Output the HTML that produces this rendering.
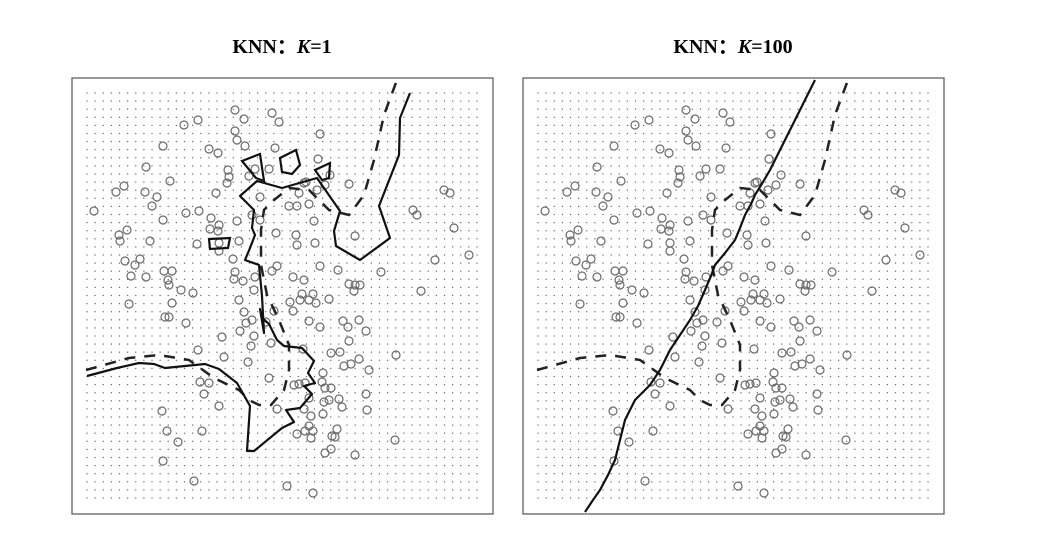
<!DOCTYPE html>
<html><head><meta charset="utf-8"><style>
html,body{margin:0;padding:0;background:#fff;width:1040px;height:538px;overflow:hidden}
svg{display:block}
</style></head><body>
<svg id="chart" width="1040" height="538" viewBox="0 0 1040 538" xmlns="http://www.w3.org/2000/svg">
<text x="282" y="53" text-anchor="middle" font-family="Liberation Serif, serif" font-weight="bold" font-size="20">KNN：<tspan font-style="italic">K</tspan>=1</text>
<text x="733" y="53" text-anchor="middle" font-family="Liberation Serif, serif" font-weight="bold" font-size="20">KNN：<tspan font-style="italic">K</tspan>=100</text>
<g id="p1" transform="translate(72,78)"></g>
<g id="p2" transform="translate(523,78)"></g>
</svg>
<script>
const ptX=[163,172,200,207,126,112,163,165,173,91,137,146,203,74,156,157,155,98,52,44,73,85,144,80,22,114,127,91,139,147,138,146,165,180,188,55,47,48,78,125,147,147,167,161,68,53,63,59,74,92,100,96,97,109,121,163,162,171,183,182,200,205,197,183,177,188,204,
248,246,258,253,234,232,227,245,277,217,225,237,242,283,224,225,243,248,266,221,232,309,277,283,288,282,372,378,341,345,382,397,363,349,230,241,
57,100,93,97,114,150,126,152,167,172,180,174,168,182,179,176,194,202,199,128,137,132,147,90,95,130,106,91,122,197,205,
218,228,237,244,257,221,237,248,271,276,287,294,277,231,259,268,324,287,279,272,297,251,222,227,233,250,253,259,294,237,252,257,267,270,295,232,239,251,237,233,241,225,239,265,260,263,323,259,253,283,215,241];
const ptY=[32,41,35,44,42,47,53,62,68,68,71,75,70,89,92,99,105,103,108,114,114,119,115,128,133,135,133,142,140,147,151,153,143,137,142,152,157,163,163,166,165,173,163,181,181,183,187,198,199,193,193,202,207,212,215,194,201,203,199,212,193,188,91,91,98,119,155,
56,81,97,107,104,105,115,112,106,128,128,126,143,158,157,167,165,188,192,199,202,194,206,207,207,213,112,115,132,137,150,177,182,213,216,216,
226,225,239,239,245,259,272,279,222,234,242,245,253,258,268,284,244,233,265,304,305,316,328,333,353,353,364,383,403,300,331,
224,222,222,225,221,233,243,249,243,249,242,253,263,271,275,274,277,281,286,288,292,295,307,306,305,304,310,310,316,320,324,322,321,329,332,331,338,336,348,353,353,356,360,351,358,359,362,371,375,377,408,415];
const bayesX=[14,57,87,117,142,167,177,187,199,212,217,217,207,195,189,189,192,202,217,237,257,277,292,302,312,325];
const bayesY=[292,280,277,282,300,312,322,327,327,312,292,267,242,217,187,152,132,122,110,112,132,137,117,82,37,2];
const k100X=[62,70,77,85,92,97,102,112,127,137,147,157,167,175,182,188,192,202,212,217,222,228,232,240,247,257,267,277,287,292];
const k100Y=[434,422,412,397,382,362,342,322,307,292,272,257,242,228,212,198,187,175,162,150,137,126,117,104,92,72,52,32,12,2];
const k1X=[15,45,67,82,93,133,147,165,178,175,182,210,222,214,228,240,232,243,236,242,230,212,205,197,190,188,192,190,187,173,178,183,180,182,168,185,210,245,268,262,264,288,318,307,327,328,338];
const k1Y=[298,290,285,286,290,286,291,305,328,373,373,350,344,332,330,316,308,305,295,283,270,268,262,246,240,231,255,218,187,182,170,157,150,132,118,103,110,100,133,153,168,182,160,128,77,40,15];
const boxX=[137,158,156,138,137], boxY=[161,160,170,171,161];
const fly1X=[170,188,192,184,170], fly1Y=[83,76,103,100,83];
const fly2X=[208,224,228,220,210,208], fly2Y=[80,72,87,96,94,80];
const fly3X=[243,258,257,250,243], fly3Y=[92,85,100,102,92];
const W=421,H=436;
function sx(v){return v*W/421;}
function sy(v){return v*H/436;}
const NS='http://www.w3.org/2000/svg';
function mk(t,a,p){const e=document.createElementNS(NS,t);for(const k in a)e.setAttribute(k,a[k]);p.appendChild(e);return e;}
function pathD(xs,ys,close){let d='';for(let i=0;i<xs.length;i++)d+=(i?'L':'M')+sx(xs[i]).toFixed(1)+' '+sy(ys[i]).toFixed(1);return d+(close?'Z':'');}
function build(g,isK1){
  const fr=mk('rect',{x:0,y:0,width:W,height:H,fill:'#fff',stroke:'#555','stroke-width':1.2},g);
  
  
  const grid=mk('g',{fill:'#666'},g);
  
  
  for(let r=0;r<51;r++)for(let c=0;c<49;c++){mk('rect',{x:(15+c*8.125-0.6).toFixed(2),y:(15+r*8.1-0.6).toFixed(2),width:1.2,height:1.2},grid);}
  const pts=mk('g',{fill:'none',stroke:'#6a6a6a','stroke-width':1.2},g);
  
  
  for(let i=0;i<ptX.length;i++){
    const c=mk('circle',{cx:sx(ptX[i]),cy:sy(ptY[i]),r:4},pts);
    
    
  }
  const b=mk('path',{d:pathD(bayesX,bayesY),fill:'none',stroke:'#222','stroke-width':2.5,'stroke-dasharray':'11 9'},g);
  
  
  if(isK1){
    const m=mk('path',{d:pathD(k1X,k1Y),fill:'none',stroke:'#111','stroke-width':2.2,'stroke-linejoin':'round'},g);
    
    
    [[boxX,boxY],[fly1X,fly1Y],[fly2X,fly2Y],[fly3X,fly3Y]].forEach(function(p){
      const s=mk('path',{d:pathD(p[0],p[1],true),fill:'none',stroke:'#111','stroke-width':2.2},g);
      
      
    });
  } else {
    const m=mk('path',{d:pathD(k100X,k100Y),fill:'none',stroke:'#111','stroke-width':2.2,'stroke-linejoin':'round'},g);
    
    
  }
}
build(document.getElementById('p1'),true);
build(document.getElementById('p2'),false);
</script>
</body></html>
